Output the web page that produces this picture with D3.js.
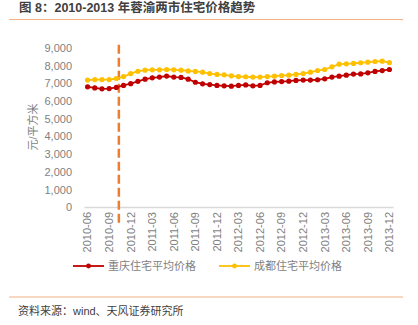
<!DOCTYPE html>
<html><head><meta charset="utf-8">
<script src="https://cdn.jsdelivr.net/npm/d3@7"></script>
<style>body{margin:0;background:#fff}svg{display:block}</style>
</head><body>
<script>
const months = [];
for (let y = 2010; y <= 2013; y++) for (let m = 1; m <= 12; m++) {
  if (y === 2010 && m < 6) continue;
  months.push(y + "-" + String(m).padStart(2, "0"));
}
const chongqing = [6780,6720,6670,6680,6750,6860,6960,7090,7210,7290,7330,7390,7330,7310,7210,7040,6950,6910,6860,6840,6820,6860,6890,6840,6860,7010,7060,7080,7100,7140,7160,7160,7180,7230,7330,7380,7440,7500,7510,7570,7650,7700,7760];
const chengdu = [7160,7190,7190,7190,7250,7360,7530,7660,7720,7740,7740,7760,7740,7720,7680,7650,7610,7530,7480,7460,7400,7360,7350,7330,7330,7360,7380,7420,7440,7480,7530,7610,7700,7760,7910,8060,8080,8100,8140,8170,8210,8230,8150];
const yTicks = [0,1000,2000,3000,4000,5000,6000,7000,8000,9000];
const seriesNames = ["重庆住宅平均价格","成都住宅平均价格"];
const colors = ["#C00000","#FFC000"];
const markerIndex = 4.35; // dashed vertical marker position (between 2010-10 and 2010-11)

const W = 418, H = 325;
const svg = d3.select("body").append("svg").attr("width", W).attr("height", H);
const font = "'Liberation Sans', 'Noto Sans CJK SC', sans-serif";

svg.append("text").attr("x", 19).attr("y", 12).attr("font-family", font)
  .attr("font-size", 12.5).attr("font-weight", "bold").attr("fill", "#404040")
  .text("图 8：2010-2013 年蓉渝两市住宅价格趋势");
svg.append("line").attr("x1", 9).attr("x2", 403).attr("y1", 19.5).attr("y2", 19.5)
  .attr("stroke", "#F4B183").attr("stroke-width", 1.2);
svg.append("line").attr("x1", 9).attr("x2", 403).attr("y1", 297).attr("y2", 297)
  .attr("stroke", "#F4B183").attr("stroke-width", 1.2);
svg.append("text").attr("x", 18).attr("y", 314.5).attr("font-family", font)
  .attr("font-size", 11).attr("fill", "#404040").text("资料来源：wind、天风证券研究所");

const x = d3.scaleBand().domain(months).range([84, 393]);
const xc = d => x(d) + x.bandwidth() / 2;
const y = d3.scaleLinear().domain([0, 9000]).range([207, 47.5]);

// y axis
const ya = svg.append("g").attr("transform", "translate(72,0)")
  .call(d3.axisLeft(y).tickValues(yTicks).tickSize(0).tickPadding(0).tickFormat(d3.format(",")));
ya.select(".domain").remove();
ya.selectAll("text").attr("font-family", font).attr("font-size", 11).attr("fill", "#7f7f7f").attr("dy", "0.35em");

svg.append("text").attr("transform", "translate(37,127) rotate(-90)")
  .attr("text-anchor", "middle").attr("font-family", font).attr("font-size", 11)
  .attr("fill", "#7f7f7f").text("元/平方米");

// x axis
const xTickVals = months.filter((d, i) => i % 3 === 0);
const xa = svg.append("g").attr("transform", "translate(0,207)")
  .call(d3.axisBottom(x).tickValues(xTickVals).tickSize(0).tickPadding(0));
xa.select(".domain").attr("stroke", "#d9d9d9").attr("stroke-width", 1.5);
xa.selectAll("text").attr("font-family", font).attr("font-size", 11).attr("fill", "#7f7f7f")
  .attr("transform", "rotate(-90)").attr("text-anchor", "end").attr("x", -5).attr("y", 0).attr("dy", "0.35em");

// dashed marker
const step = x.step();
const mx = xc(months[0]) + markerIndex * step;
svg.append("line").attr("x1", mx).attr("x2", mx).attr("y1", y(9150)).attr("y2", 223)
  .attr("stroke", "#ED7D31").attr("stroke-width", 2.5).attr("stroke-dasharray", "9,4");

// lines
[chongqing, chengdu].forEach((data, k) => {
  const line = d3.line().x((d, i) => xc(months[i])).y(d => y(d));
  svg.append("path").datum(data).attr("d", line).attr("fill", "none")
    .attr("stroke", colors[k]).attr("stroke-width", 1.8);
  svg.append("g").selectAll("circle").data(data).join("circle")
    .attr("cx", (d, i) => xc(months[i])).attr("cy", d => y(d)).attr("r", 2.6)
    .attr("fill", colors[k]);
});

// legend
const lg = [{x: 73, tx: 108}, {x: 219, tx: 254}];
seriesNames.forEach((n, k) => {
  const g = svg.append("g");
  g.append("line").attr("x1", lg[k].x).attr("x2", lg[k].x + 31).attr("y1", 266).attr("y2", 266)
    .attr("stroke", colors[k]).attr("stroke-width", 1.8);
  g.append("circle").attr("cx", lg[k].x + 15.5).attr("cy", 266).attr("r", 2.4).attr("fill", colors[k]);
  g.append("text").attr("x", lg[k].tx).attr("y", 266).attr("dy", "0.35em")
    .attr("font-family", font).attr("font-size", 11).attr("fill", "#7f7f7f").text(n);
});
</script>
</body></html>
